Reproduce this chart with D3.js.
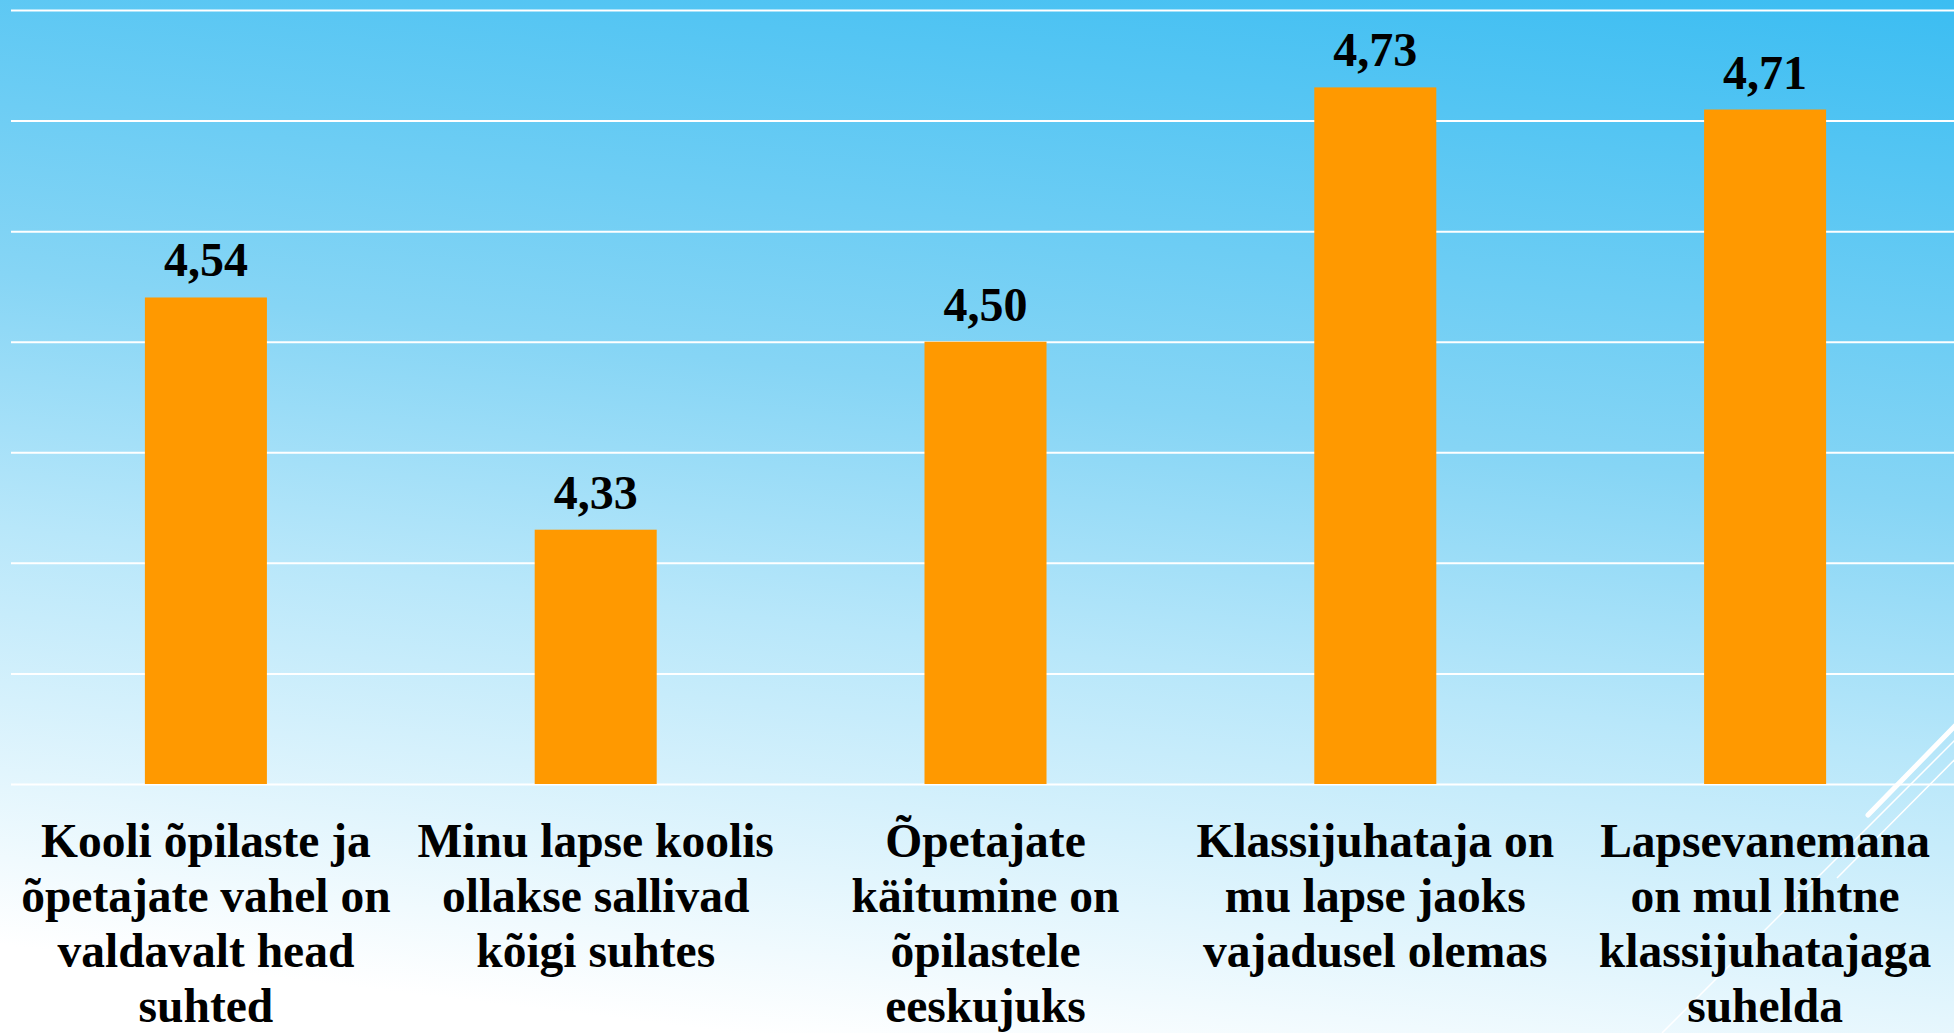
<!DOCTYPE html>
<html>
<head>
<meta charset="utf-8">
<script src="https://cdn.jsdelivr.net/npm/d3@7"></script>
<style>
    html, body { margin: 0; padding: 0; overflow: hidden; background: #fff; }
    svg { display: block; }
    .value-label { font-family: "Liberation Serif", "Times New Roman", serif; font-weight: bold; font-size: 48px; fill: #000; }
    .cat-label { font-family: "Liberation Serif", "Times New Roman", serif; font-weight: bold; font-size: 47.5px; fill: #000; }
</style>
</head>
<body>
<svg id="chart" width="1954" height="1033" viewBox="0 0 1954 1033"></svg>
<script>
// Data
const categories = [
    "Kooli õpilaste ja\nõpetajate vahel on\nvaldavalt head\nsuhted",
    "Minu lapse koolis\nollakse sallivad\nkõigi suhtes",
    "Õpetajate\nkäitumine on\nõpilastele\neeskujuks",
    "Klassijuhataja on\nmu lapse jaoks\nvajadusel olemas",
    "Lapsevanemana\non mul lihtne\nklassijuhatajaga\nsuhelda"
];
const values = [4.54, 4.33, 4.50, 4.73, 4.71];
const y_ticks = [4.1, 4.2, 4.3, 4.4, 4.5, 4.6, 4.7, 4.8];

const svg = d3.select('#chart');
const width = 1954, height = 1033;

// Background gradient
const defs = svg.append('defs');
const grad = defs.append('linearGradient')
    .attr('id', 'bg')
    .attr('gradientUnits', 'userSpaceOnUse')
    .attr('x1', 1954).attr('y1', 0)
    .attr('x2', 1804).attr('y2', 1250);
grad.append('stop').attr('offset', 0).attr('stop-color', '#3bbdf2');
grad.append('stop').attr('offset', 0.4).attr('stop-color', '#86d5f5');
grad.append('stop').attr('offset', 0.6).attr('stop-color', '#b8e7fa');
grad.append('stop').attr('offset', 0.93).attr('stop-color', '#ffffff');
svg.append('rect')
    .attr('width', width).attr('height', height)
    .attr('fill', 'url(#bg)');

// Scales
const plot_left = 11, plot_right = 1960;
const x_scale = d3.scaleBand()
    .domain(d3.range(categories.length))
    .range([plot_left, plot_right])
    .paddingInner(0.687)
    .paddingOuter(0.3435);
const y_scale = d3.scaleLinear()
    .domain([4.1, 4.8])
    .range([784, 10]);

// Gridlines
const grid = d3.axisLeft(y_scale)
    .tickValues(y_ticks)
    .tickSize(-(plot_right - plot_left))
    .tickFormat('');
svg.append('g')
    .attr('transform', 'translate(' + plot_left + ',0)')
    .call(grid)
    .call(g => g.select('.domain').remove())
    .call(g => g.selectAll('.tick line')
        .attr('stroke', '#ffffff')
        .attr('stroke-width', 2));

// Decorative strokes (slide theme)
const deco = svg.append('g').attr('stroke', '#ffffff').attr('fill', 'none');
deco.append('line')
    .attr('x1', 1990).attr('y1', 690).attr('x2', 1868).attr('y2', 815)
    .attr('stroke-width', 5).attr('stroke-linecap', 'round');
deco.append('line')
    .attr('x1', 1990).attr('y1', 705).attr('x2', 1662).attr('y2', 1033)
    .attr('stroke-width', 1.5);
deco.append('line')
    .attr('x1', 1990).attr('y1', 724).attr('x2', 1837).attr('y2', 878)
    .attr('stroke-width', 1.5);

// Bars
svg.append('g')
    .selectAll('rect')
    .data(values)
    .enter()
    .append('rect')
    .attr('x', (d, i) => x_scale(i))
    .attr('y', d => y_scale(d))
    .attr('width', x_scale.bandwidth())
    .attr('height', d => y_scale(4.1) - y_scale(d))
    .attr('fill', '#ff9900');

// Value labels
const fmt = d3.formatLocale({ decimal: ',', thousands: ' ', grouping: [3], currency: ['', ''] }).format('.2f');
svg.append('g')
    .selectAll('text')
    .data(values)
    .enter()
    .append('text')
    .attr('class', 'value-label')
    .attr('x', (d, i) => x_scale(i) + x_scale.bandwidth() / 2)
    .attr('y', d => y_scale(d) - 21)
    .attr('text-anchor', 'middle')
    .text(d => fmt(d));

// Category labels
const cat = svg.append('g')
    .selectAll('text')
    .data(categories)
    .enter()
    .append('text')
    .attr('class', 'cat-label')
    .attr('text-anchor', 'middle')
    .attr('x', (d, i) => x_scale(i) + x_scale.bandwidth() / 2)
    .attr('y', y_scale(4.1) + 73);
cat.selectAll('tspan')
    .data(d => d.split('\n'))
    .enter()
    .append('tspan')
    .attr('x', function () { return this.parentNode.getAttribute('x'); })
    .attr('dy', (d, i) => i === 0 ? 0 : 55)
    .text(d => d);
</script>
</body>
</html>
